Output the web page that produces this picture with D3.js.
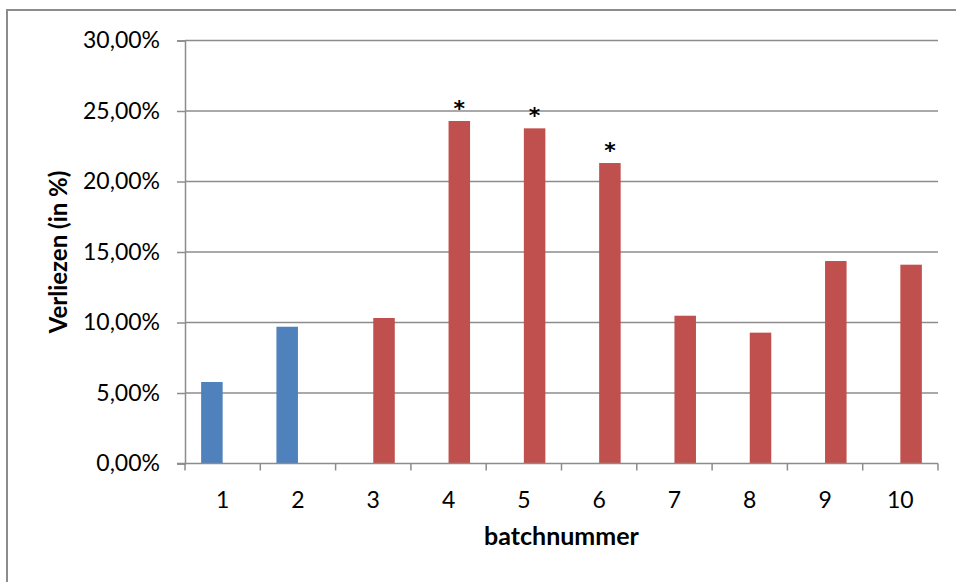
<!DOCTYPE html>
<html>
<head>
<meta charset="utf-8">
<script src="https://cdn.jsdelivr.net/npm/d3@7"></script>
<style>
  html, body { margin: 0; padding: 0; background: #fff; }
  svg { display: block; }
  text { font-family: Lato, "Open Sans", sans-serif; fill: #000; }
</style>
</head>
<body>
<svg id="chart" width="956" height="582"></svg>
<script>
// Batch numbers on the x axis
const categories = ["1", "2", "3", "4", "5", "6", "7", "8", "9", "10"];
// Losses per batch (fraction); two series, one per group of batches
const seriesBlue = [0.0578, 0.0970, null, null, null, null, null, null, null, null];
const seriesRed  = [null, null, 0.1032, 0.2429, 0.2377, 0.2131, 0.1048, 0.0928, 0.1436, 0.1410];
// Batches marked as significant
const marked = ["4", "5", "6"];
// Y axis tick values
const yTicks = [0, 0.05, 0.10, 0.15, 0.20, 0.25, 0.30];

const seriesNames = ["blue", "red"];
const colors = { blue: "#4F81BD", red: "#C0504D" };

const svg = d3.select("#chart");
const plot = { left: 185, right: 938, top: 40.5, bottom: 463.5 };

// Outer chart frame
svg.append("path")
  .attr("d", `M7,582 V10 H956`)
  .attr("fill", "none")
  .attr("stroke", "#8c8c8c")
  .attr("stroke-width", 2);

const x = d3.scaleBand().domain(categories).range([plot.left, plot.right]).paddingInner(0).paddingOuter(0);
// Two bar slots per category with 150% gap width
const x1 = d3.scaleBand().domain(seriesNames).range([0, x.bandwidth()]).paddingInner(0).paddingOuter(0.75);
const y = d3.scaleLinear().domain([0, 0.30]).range([plot.bottom, plot.top]);

const fmt = v => d3.format(".2f")(v * 100).replace(".", ",") + "%";

// Horizontal gridlines and y ticks
const yAxis = d3.axisLeft(y).tickValues(yTicks).tickFormat(fmt)
  .tickSize(8).tickPadding(17);
const gy = svg.append("g").attr("transform", `translate(${plot.left},0)`).call(yAxis);
gy.select(".domain").attr("stroke", "#8c8c8c").attr("stroke-width", 1.5);
gy.selectAll(".tick line").attr("stroke", "#8c8c8c").attr("stroke-width", 1.5);
gy.selectAll(".tick text").style("font-size", "23px").attr("fill", "#000");

svg.append("g").selectAll("line")
  .data(yTicks.filter(t => t > 0))
  .join("line")
  .attr("x1", plot.left).attr("x2", plot.right)
  .attr("y1", d => y(d)).attr("y2", d => y(d))
  .attr("stroke", "#8c8c8c").attr("stroke-width", 1.5);

// Bars
const rows = categories.map((c, i) => ({ cat: c, blue: seriesBlue[i], red: seriesRed[i] }));
const gBars = svg.append("g");
rows.forEach(r => {
  seriesNames.forEach(s => {
    if (r[s] == null) return;
    gBars.append("rect")
      .attr("x", x(r.cat) + x1(s))
      .attr("width", x1.bandwidth())
      .attr("y", y(r[s]))
      .attr("height", y(0) - y(r[s]))
      .attr("fill", colors[s]);
  });
});

// Significance markers above bars
gBars.selectAll("text.mark")
  .data(rows.filter(r => marked.includes(r.cat)))
  .join("text")
  .attr("class", "mark")
  .attr("x", d => x(d.cat) + x1(d.red == null ? "blue" : "red") + x1.bandwidth() / 2)
  .attr("y", d => y(d.red == null ? d.blue : d.red) - 5)
  .attr("text-anchor", "middle")
  .style("font-family", "'DejaVu Sans', sans-serif")
  .style("font-size", "22px")
  .style("font-weight", "bold")
  .text("*");

// X axis with ticks at category boundaries
const gx = svg.append("g").attr("transform", `translate(0,${plot.bottom})`);
gx.append("line")
  .attr("x1", plot.left - 8).attr("x2", plot.right)
  .attr("stroke", "#8c8c8c").attr("stroke-width", 1.5);
gx.selectAll("line.tick")
  .data(categories.concat(["end"]))
  .join("line")
  .attr("class", "tick")
  .attr("x1", (d, i) => plot.left + i * x.bandwidth())
  .attr("x2", (d, i) => plot.left + i * x.bandwidth())
  .attr("y1", 0).attr("y2", 7)
  .attr("stroke", "#8c8c8c").attr("stroke-width", 1.5);
gx.selectAll("text")
  .data(categories)
  .join("text")
  .attr("x", d => x(d) + x.bandwidth() / 2)
  .attr("y", 44)
  .attr("text-anchor", "middle")
  .style("font-size", "23px")
  .text(d => d);

// Axis titles
svg.append("text")
  .attr("x", (plot.left + plot.right) / 2)
  .attr("y", 545)
  .attr("text-anchor", "middle")
  .style("font-size", "25px")
  .style("font-weight", "bold")
  .text("batchnummer");

svg.append("text")
  .attr("transform", `translate(67,${(plot.top + plot.bottom) / 2}) rotate(-90)`)
  .attr("text-anchor", "middle")
  .style("font-size", "24px")
  .style("font-weight", "bold")
  .text("Verliezen (in %)");
</script>
</body>
</html>
